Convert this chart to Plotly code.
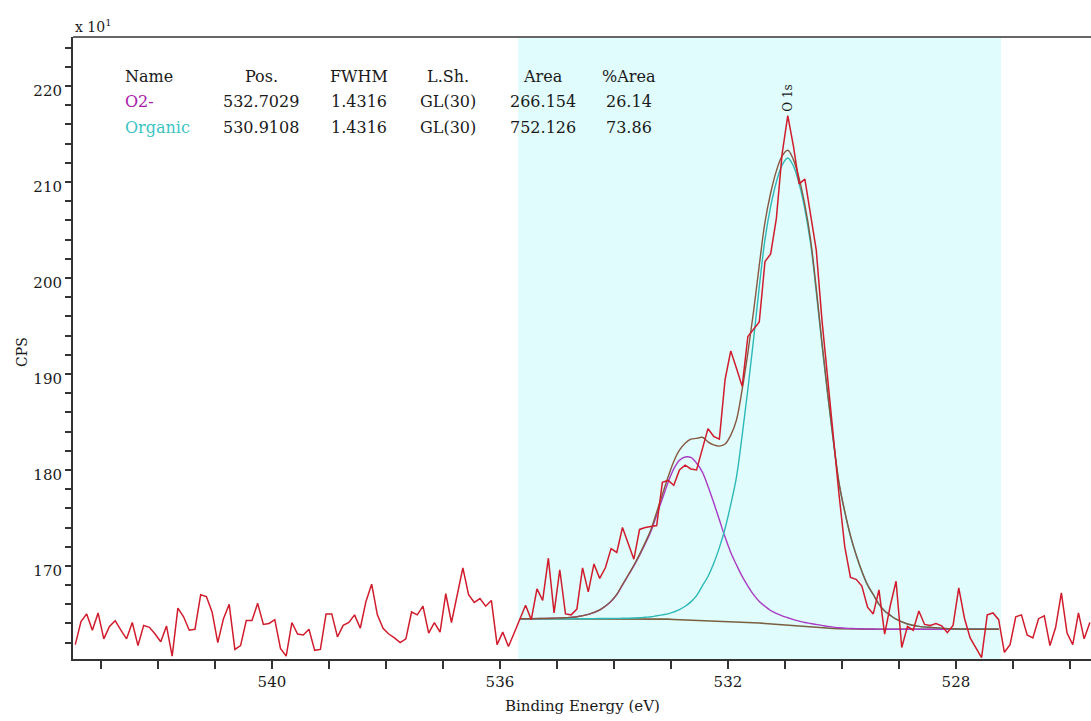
import plotly.graph_objects as go

# ---------------- data ----------------
# Raw O 1s spectrum (CPS / 10), one reading every 0.1 eV starting at 543.45 eV
raw_start_ev = 543.45
raw_step_ev = 0.1
raw_cps = [
    161.8, 164.2, 165.0, 163.3, 165.1, 162.4, 163.7, 164.3, 163.3, 162.4,
    164.1, 161.7, 163.8, 163.6, 162.9, 162.1, 163.75, 160.6, 165.6, 164.7,
    163.3, 163.4, 167.0, 166.8, 165.2, 162.0, 164.5, 166.0, 161.3, 161.7,
    164.3, 164.3, 166.1, 163.9, 164.0, 164.4, 161.4, 160.6, 164.1, 162.9,
    162.8, 163.4, 161.2, 161.3, 165.0, 165.0, 162.6, 163.8, 164.1, 164.9,
    163.5, 166.3, 168.1, 164.9, 163.5, 162.9, 162.5, 162.0, 162.4, 165.2,
    164.9, 165.8, 163.0, 164.1, 163.1, 167.1, 164.1, 167.0, 169.8, 167.0,
    166.2, 166.6, 165.8, 166.4, 161.8, 163.1, 161.6, 163.0, 164.5, 165.9,
    164.4, 167.6, 166.4, 170.8, 165.1, 169.6, 165.0, 164.9, 165.5, 169.8,
    167.3, 170.2, 168.7, 169.8, 171.8, 171.4, 174.0, 172.4, 170.7, 173.8,
    174.0, 174.1, 174.2, 178.7, 178.9, 178.4, 180.0, 180.5, 180.1, 180.0,
    182.1, 184.3, 183.5, 183.2, 189.4, 192.4, 190.6, 188.7, 193.9, 194.6,
    195.4, 201.7, 202.5, 206.2, 212.9, 216.9, 213.7, 209.8, 210.3, 206.6,
    202.9, 195.6, 189.3, 183.6, 177.4, 172.0, 168.8, 168.6, 167.9, 165.7,
    165.0, 167.5, 162.9, 165.9, 168.4, 161.5, 163.7, 163.3, 165.3, 163.9,
    163.8, 164.0, 163.75, 163.05, 163.8, 167.7, 164.55, 162.5, 161.4, 160.45,
    164.9, 165.1, 164.4, 161.0, 161.8, 164.7, 164.9, 162.8, 162.5, 164.5,
    164.8, 161.7, 163.6, 167.2, 163.0, 161.8, 165.1, 162.4, 164.1,
]
raw_ev = [round(raw_start_ev - raw_step_ev * i, 2) for i in range(len(raw_cps))]

# Peak-fit curves (CPS / 10) on the fit grid
fit_ev = [
    535.65, 535.45, 535.25, 535.05, 534.85, 534.65, 534.45, 534.25, 534.15, 534.05,
    533.95, 533.85, 533.75, 533.65, 533.55, 533.45, 533.35, 533.25, 533.15, 533.05,
    532.95, 532.85, 532.75, 532.65, 532.55, 532.45, 532.35, 532.25, 532.15, 532.05,
    531.95, 531.85, 531.75, 531.65, 531.55, 531.45, 531.35, 531.25, 531.15, 531.05,
    530.95, 530.85, 530.75, 530.65, 530.55, 530.45, 530.35, 530.25, 530.15, 530.05,
    529.95, 529.85, 529.75, 529.65, 529.55, 529.45, 529.35, 529.25, 529.15, 529.05,
    528.85, 528.65, 528.45, 528.05, 527.65, 527.25,
]
baseline_cps = [
    164.5, 164.5, 164.5, 164.5, 164.5, 164.5, 164.5, 164.5, 164.5, 164.5,
    164.5, 164.5, 164.5, 164.5, 164.5, 164.5, 164.5, 164.5, 164.47, 164.45,
    164.42, 164.4, 164.37, 164.35, 164.32, 164.3, 164.28, 164.25, 164.22, 164.2,
    164.18, 164.15, 164.12, 164.1, 164.08, 164.05, 164.0, 163.95, 163.9, 163.85,
    163.8, 163.75, 163.7, 163.65, 163.6, 163.55, 163.52, 163.5, 163.47, 163.45,
    163.43, 163.42, 163.41, 163.4, 163.4, 163.4, 163.4, 163.4, 163.4, 163.4,
    163.4, 163.4, 163.4, 163.4, 163.4, 163.4,
]
o2_cps = [
    164.5, 164.5, 164.52, 164.55, 164.6, 164.7, 164.95, 165.4, 165.8, 166.3,
    167.0, 168.0, 169.0, 170.0, 171.1, 172.3, 173.6, 175.3, 177.0, 178.7,
    180.1, 181.0, 181.35, 181.3, 180.7, 179.8, 178.3, 176.6, 174.8, 173.0,
    171.4, 170.1, 168.9, 167.9, 167.0, 166.3, 165.8, 165.35, 165.05, 164.8,
    164.6, 164.4, 164.25, 164.1, 164.0, 163.9, 163.8, 163.7, 163.62, 163.55,
    163.5, 163.48, 163.46, 163.45, 163.43, 163.42, 163.41, 163.4, 163.4, 163.4,
    163.4, 163.4, 163.4, 163.4, 163.4, 163.4,
]
organic_cps = [
    164.5, 164.5, 164.5, 164.5, 164.5, 164.5, 164.5, 164.52, 164.52, 164.53,
    164.53, 164.54, 164.55, 164.57, 164.6, 164.65, 164.7, 164.8, 164.9, 165.0,
    165.2, 165.45, 165.8, 166.25, 166.9, 167.9, 168.9, 170.25, 171.9, 173.9,
    176.4, 179.25, 183.6, 188.4, 193.6, 199.05, 204.0, 207.45, 210.0, 211.75,
    212.5, 211.65, 209.8, 207.15, 203.6, 198.55, 193.0, 187.8, 182.95, 178.55,
    175.6, 173.1, 171.1, 169.4, 168.0, 167.0, 166.0, 165.3, 164.85, 164.45,
    163.95, 163.7, 163.6, 163.45, 163.4, 163.4,
]
envelope_cps = [
    164.5, 164.5, 164.52, 164.55, 164.6, 164.7, 164.95, 165.42, 165.82, 166.33,
    167.03, 168.04, 169.05, 170.07, 171.2, 172.45, 173.8, 175.6, 177.43, 179.25,
    180.88, 182.05, 182.78, 183.2, 183.28, 183.4, 182.92, 182.6, 182.48, 182.7,
    183.62, 185.2, 188.38, 192.2, 196.52, 201.3, 205.8, 208.85, 211.15, 212.7,
    213.3, 212.3, 210.35, 207.6, 204.0, 198.9, 193.28, 188.0, 183.1, 178.65,
    175.67, 173.16, 171.15, 169.45, 168.03, 167.02, 166.01, 165.3, 164.85, 164.45,
    163.95, 163.7, 163.6, 163.45, 163.4, 163.4,
]

region_ev = [535.68, 527.21]
peak_label = "O 1s"
peak_label_ev = 530.95

table_header = ["Name", "Pos.", "FWHM", "L.Sh.", "Area", "%Area"]
table_rows = [
    ["O2-", "532.7029", "1.4316", "GL(30)", "266.154", "26.14"],
    ["Organic", "530.9108", "1.4316", "GL(30)", "752.126", "73.86"],
]
row_name_colors = ["#a81aa8", "#3cc4c4"]

x_tick_vals = [540, 536, 532, 528]
y_tick_vals = [170, 180, 190, 200, 210, 220]

# ---------------- figure ----------------
SERIF = "DejaVu Serif"
fig = go.Figure()

fig.add_trace(go.Scatter(x=fit_ev, y=baseline_cps, mode="lines",
                         line=dict(color="#7a6040", width=1.6), hoverinfo="skip"))
fig.add_trace(go.Scatter(x=fit_ev, y=o2_cps, mode="lines", line_shape="spline",
                         line=dict(color="#a83cc4", width=1.4), hoverinfo="skip"))
fig.add_trace(go.Scatter(x=fit_ev, y=organic_cps, mode="lines", line_shape="spline",
                         line=dict(color="#2fb8b8", width=1.4), hoverinfo="skip"))
fig.add_trace(go.Scatter(x=fit_ev, y=envelope_cps, mode="lines", line_shape="spline",
                         line=dict(color="#85583f", width=1.4), hoverinfo="skip"))
fig.add_trace(go.Scatter(x=raw_ev, y=raw_cps, mode="lines",
                         line=dict(color="#d01c2c", width=1.5), hoverinfo="skip"))

# shaded fitting region
fig.add_shape(type="rect", xref="x", yref="paper", x0=region_ev[0], x1=region_ev[1],
              y0=0, y1=1, fillcolor="#e0fcfc", line=dict(width=0), layer="below")
# top frame line
fig.add_shape(type="line", xref="paper", yref="paper", x0=0, x1=1, y0=1, y1=1,
              line=dict(color="#666666", width=2))

annotations = []
col_x = [0.0491, 0.1847, 0.2810, 0.3684, 0.4617, 0.5462]
row_y = [0.9357, 0.8955, 0.8537]
for c, txt in enumerate(table_header):
    annotations.append(dict(text=txt, x=col_x[c], y=row_y[0], xref="paper", yref="paper",
                            xanchor="left" if c == 0 else "center", yanchor="middle",
                            showarrow=False, font=dict(family=SERIF, size=16, color="#1a1a1a")))
for r, row in enumerate(table_rows):
    for c, txt in enumerate(row):
        annotations.append(dict(text=txt, x=col_x[c], y=row_y[r + 1], xref="paper", yref="paper",
                                xanchor="left" if c == 0 else "center", yanchor="middle",
                                showarrow=False,
                                font=dict(family=SERIF, size=16,
                                          color=row_name_colors[r] if c == 0 else "#1a1a1a")))
annotations.append(dict(text=peak_label, x=peak_label_ev, y=0.902, xref="x", yref="paper",
                        textangle=-90, showarrow=False, xanchor="center", yanchor="middle",
                        font=dict(family=SERIF, size=12, color="#1a1a1a")))
annotations.append(dict(text="x 10<sup>1</sup>", x=0.0, y=1.0, xref="paper", yref="paper",
                        xanchor="left", yanchor="bottom", showarrow=False,
                        font=dict(family=SERIF, size=14, color="#1a1a1a")))
annotations.append(dict(text="CPS", x=-0.0501, y=0.4936, xref="paper", yref="paper",
                        textangle=-90, xanchor="center", yanchor="middle", showarrow=False,
                        font=dict(family=SERIF, size=14, color="#1a1a1a")))
annotations.append(dict(text="Binding Energy (eV)", x=0.5, y=-0.0756, xref="paper", yref="paper",
                        xanchor="center", yanchor="middle", showarrow=False,
                        font=dict(family=SERIF, size=15, color="#1a1a1a")))

fig.update_layout(
    width=1091, height=721,
    margin=dict(l=73, r=0, t=37, b=62),
    paper_bgcolor="white", plot_bgcolor="white",
    showlegend=False,
    annotations=annotations,
    xaxis=dict(range=[543.49, 525.63], tickvals=x_tick_vals, ticks="outside", ticklen=8,
               tickwidth=1.5, tickcolor="#333333", showline=True, linecolor="#333333",
               linewidth=2, showgrid=False, zeroline=False,
               tickfont=dict(family=SERIF, size=15, color="#1a1a1a"),
               minor=dict(dtick=1, tick0=540, ticks="outside", ticklen=8, tickwidth=1.5,
                          tickcolor="#333333", showgrid=False)),
    yaxis=dict(range=[160.3, 225.1], tickvals=y_tick_vals, ticks="outside", ticklen=6,
               tickwidth=1.5, tickcolor="#333333", showline=True, linecolor="#333333",
               linewidth=2, showgrid=False, zeroline=False,
               ticklabelshift=5,
               tickfont=dict(family=SERIF, size=15, color="#1a1a1a"),
               minor=dict(dtick=2, tick0=160, ticks="outside", ticklen=6, tickwidth=1.5,
                          tickcolor="#333333", showgrid=False)),
)

fig.write_html("out.html", config={"displayModeBar": False},
               post_script="document.body.style.margin='0';")
